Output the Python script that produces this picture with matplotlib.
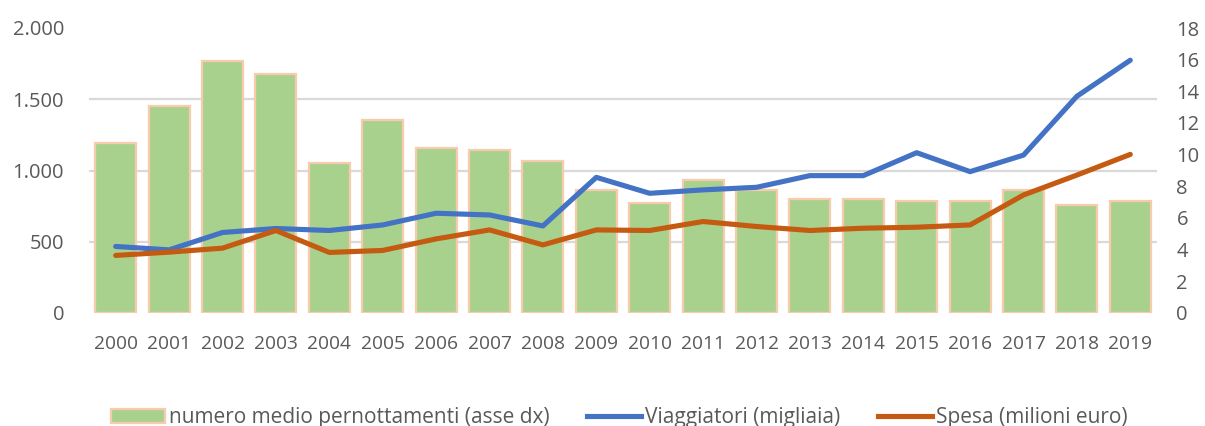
"""Viaggiatori, spesa e pernottamenti medi, 2000-2019."""
import matplotlib

matplotlib.use("Agg")
import matplotlib.pyplot as plt
from matplotlib.patches import Patch
from matplotlib.lines import Line2D

years = [str(y) for y in range(2000, 2020)]
# numero medio pernottamenti (asse dx)
nights = [10.75, 13.1, 15.9, 15.1, 9.45, 12.2, 10.4, 10.3, 9.6, 7.8,
          6.95, 8.4, 7.8, 7.2, 7.2, 7.1, 7.05, 7.8, 6.85, 7.1]
# Viaggiatori (migliaia)
travellers = [467, 443, 565, 593, 579, 618, 700, 688, 611, 952,
              840, 864, 882, 964, 964, 1125, 992, 1108, 1521, 1774]
# Spesa (milioni euro)
spending = [404, 427, 455, 579, 425, 439, 520, 583, 478, 583,
            579, 642, 607, 579, 595, 602, 618, 828, 968, 1113]

left_ticks = [0, 500, 1000, 1500, 2000]
left_labels = ["0", "500", "1.000", "1.500", "2.000"]
right_ticks = list(range(0, 19, 2))

GREEN = "#A9D18E"
PEACH = "#F8CBAD"
BLUE = "#4472C4"
ORANGE = "#C55A11"
GRID = "#D9D9D9"
TEXT = "#595959"
LW = 3.7

plt.rcParams["font.family"] = ["Open Sans", "DejaVu Sans"]

fig = plt.figure(figsize=(12.05, 4.26), dpi=100)
ax_b = fig.add_axes([89 / 1205, 1 - 313 / 426, 1068 / 1205, 285 / 426])
ax_l = ax_b.twinx()
ax_l.set_zorder(ax_b.get_zorder() + 1)
ax_l.patch.set_visible(False)

x = range(len(years))
ax_b.bar(x, nights, width=0.77, color=GREEN, edgecolor=PEACH,
         linewidth=1.6, zorder=2)
ax_b.set_ylim(0, 18)
ax_b.set_xlim(-0.5, len(years) - 0.5)
ax_b.yaxis.tick_right()
ax_b.set_yticks(right_ticks)
# gridlines follow the left axis (0, 500, ... 2000)
ax_b.set_yticks([t * 18 / 2000 for t in left_ticks], minor=True)
ax_b.grid(which="minor", axis="y", color=GRID, linewidth=1.6, zorder=0)
ax_b.tick_params(which="minor", length=0)
ax_b.set_xticks(list(x))
ax_b.set_xticklabels(years)
ax_b.tick_params(axis="x", length=0, pad=16, labelsize=13.8, colors=TEXT)
ax_b.tick_params(axis="y", length=0, pad=14, labelsize=14.5, colors=TEXT)

ax_l.plot(x, travellers, color=BLUE, linewidth=LW, solid_capstyle="round")
ax_l.plot(x, spending, color=ORANGE, linewidth=LW, solid_capstyle="round")
ax_l.set_ylim(0, 2000)
ax_l.yaxis.tick_left()
ax_l.set_yticks(left_ticks)
ax_l.set_yticklabels(left_labels)
ax_l.tick_params(axis="y", length=0, pad=18, labelsize=14.5, colors=TEXT)

for a in (ax_b, ax_l):
    for s in a.spines.values():
        s.set_visible(False)

handles = [
    Patch(facecolor=GREEN, edgecolor=PEACH, linewidth=1.6),
    Line2D([0], [0], color=BLUE, linewidth=LW),
    Line2D([0], [0], color=ORANGE, linewidth=LW),
]
labels = ["numero medio pernottamenti (asse dx)", "Viaggiatori (migliaia)",
          "Spesa (milioni euro)"]
fig.legend(handles, labels, loc="center", bbox_to_anchor=(0.514, 0.019),
           ncol=3, frameon=False, fontsize=15, labelcolor=TEXT,
           handlelength=2.6, handletextpad=0.2, columnspacing=1.8)

fig.savefig("out.png", dpi=100)
